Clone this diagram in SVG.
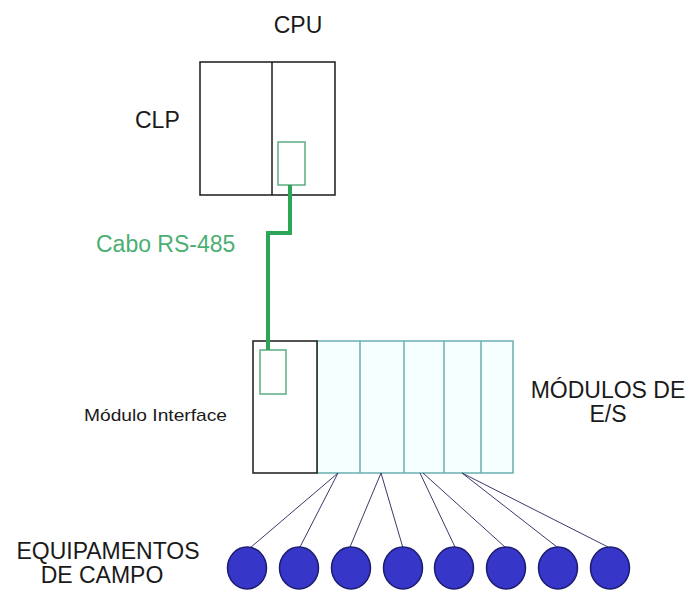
<svg xmlns="http://www.w3.org/2000/svg" width="691" height="590" viewBox="0 0 691 590">
<style>
  text { font-family: "Liberation Sans", Arial, sans-serif; fill: #1a1a1a; }
  .box { fill: #ffffff; stroke: #1a1a1a; stroke-width: 1.5; }
  .port { fill: #ffffff; stroke: #5cae80; stroke-width: 1.5; }
  .io { fill: #f6ffff; stroke: #6aaeb2; stroke-width: 1.5; }
  .cable { fill: none; stroke: #2ea65a; stroke-width: 4; }
  .wire { stroke: #3a3a6a; stroke-width: 1; }
  .dev { fill: #3636c8; stroke: #1c1c70; stroke-width: 1.5; }
</style>
<rect width="691" height="590" fill="#ffffff"/>

<g id="clp">
  <rect class="box" x="200" y="62" width="135" height="133"/>
  <line x1="272" y1="62" x2="272" y2="195" stroke="#1a1a1a" stroke-width="1.5"/>
  <rect class="port" x="278" y="142" width="27" height="43"/>
  <text x="298" y="33" font-size="23" text-anchor="middle">CPU</text>
  <text x="135" y="128" font-size="23">CLP</text>
</g>

<g id="rack">
  <rect class="io" x="317" y="341" width="196" height="132"/>
  <line x1="360" y1="341" x2="360" y2="473" stroke="#6aaeb2" stroke-width="1.5"/>
  <line x1="404" y1="341" x2="404" y2="473" stroke="#6aaeb2" stroke-width="1.5"/>
  <line x1="444" y1="341" x2="444" y2="473" stroke="#6aaeb2" stroke-width="1.5"/>
  <line x1="481" y1="341" x2="481" y2="473" stroke="#6aaeb2" stroke-width="1.5"/>
  <text x="608" y="398" font-size="23" text-anchor="middle">MÓDULOS DE</text>
  <text x="608" y="422" font-size="23" text-anchor="middle">E/S</text>
</g>

<g id="interface">
  <rect class="box" x="253" y="341" width="64" height="132"/>
  <rect class="port" x="260" y="350" width="26" height="44"/>
  <text x="84" y="421" font-size="17" textLength="143" lengthAdjust="spacingAndGlyphs">Módulo Interface</text>
</g>

<g id="connectors">
  <path class="cable" d="M290,185 V233 H268 V350"/>
  <text x="96" y="252" font-size="23" style="fill:#4caf72">Cabo RS-485</text>
  <line class="wire" x1="338" y1="473" x2="250" y2="548"/>
  <line class="wire" x1="338" y1="473" x2="300" y2="547"/>
  <line class="wire" x1="381" y1="473" x2="350" y2="547"/>
  <line class="wire" x1="381" y1="473" x2="403" y2="548"/>
  <line class="wire" x1="420" y1="473" x2="455" y2="547"/>
  <line class="wire" x1="423" y1="473" x2="505" y2="547"/>
  <line class="wire" x1="462" y1="473" x2="557" y2="547"/>
  <line class="wire" x1="462" y1="473" x2="608" y2="547"/>
</g>

<g id="equipamentos">
  <ellipse class="dev" cx="247" cy="568" rx="19.5" ry="21"/>
  <ellipse class="dev" cx="299" cy="568" rx="19.5" ry="21"/>
  <ellipse class="dev" cx="351" cy="568" rx="19.5" ry="21"/>
  <ellipse class="dev" cx="403" cy="568" rx="19.5" ry="21"/>
  <ellipse class="dev" cx="454" cy="568" rx="19.5" ry="21"/>
  <ellipse class="dev" cx="506" cy="568" rx="19.5" ry="21"/>
  <ellipse class="dev" cx="558" cy="568" rx="19.5" ry="21"/>
  <ellipse class="dev" cx="610" cy="568" rx="19.5" ry="21"/>
  <text x="108" y="559" font-size="23" text-anchor="middle">EQUIPAMENTOS</text>
  <text x="102" y="583" font-size="23" text-anchor="middle">DE CAMPO</text>
</g>
</svg>
